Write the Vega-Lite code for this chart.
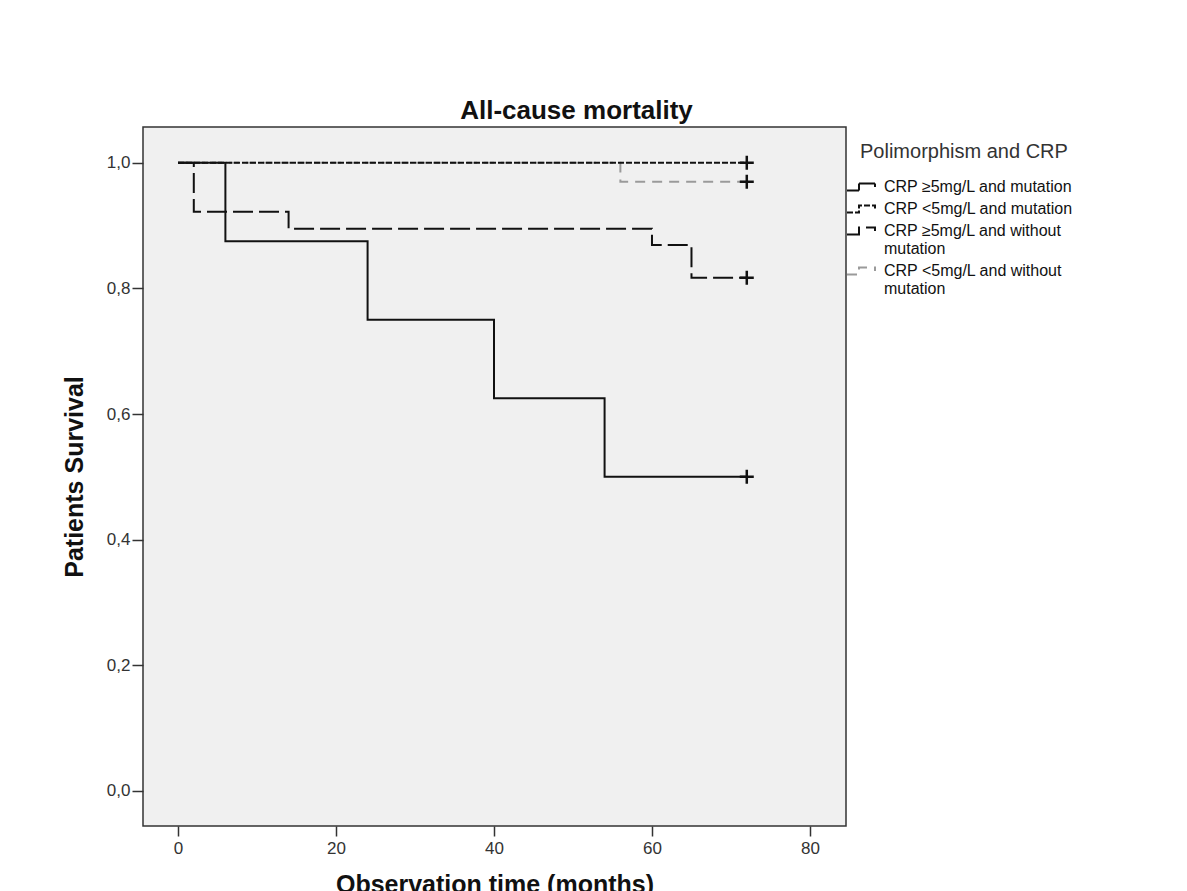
{
  "$schema": "https://vega.github.io/schema/vega-lite/v6.json",
  "autosize": {"type": "none"},
  "padding": {"left": 143, "top": 127, "right": 341, "bottom": 65},
  "width": 703,
  "height": 699,
  "background": "white",
  "title": {
    "text": "All-cause mortality",
    "font": "Liberation Sans",
    "fontSize": 26,
    "fontWeight": "bold",
    "color": "#111111",
    "anchor": "middle",
    "frame": "group",
    "dx": 82,
    "offset": 3
  },
  "datasets": {
    "curves": [
      {"group": "CRP <5mg/L and without mutation", "time": 0, "survival": 1.0},
      {"group": "CRP <5mg/L and without mutation", "time": 56, "survival": 0.97},
      {"group": "CRP <5mg/L and without mutation", "time": 72, "survival": 0.97},
      {"group": "CRP ≥5mg/L and without mutation", "time": 0, "survival": 1.0},
      {"group": "CRP ≥5mg/L and without mutation", "time": 2, "survival": 0.922},
      {"group": "CRP ≥5mg/L and without mutation", "time": 14, "survival": 0.895},
      {"group": "CRP ≥5mg/L and without mutation", "time": 60, "survival": 0.869},
      {"group": "CRP ≥5mg/L and without mutation", "time": 65, "survival": 0.817},
      {"group": "CRP ≥5mg/L and without mutation", "time": 72, "survival": 0.817},
      {"group": "CRP <5mg/L and mutation", "time": 0, "survival": 1.0},
      {"group": "CRP <5mg/L and mutation", "time": 72, "survival": 1.0},
      {"group": "CRP ≥5mg/L and mutation", "time": 0, "survival": 1.0},
      {"group": "CRP ≥5mg/L and mutation", "time": 6, "survival": 0.875},
      {"group": "CRP ≥5mg/L and mutation", "time": 24, "survival": 0.75},
      {"group": "CRP ≥5mg/L and mutation", "time": 40, "survival": 0.625},
      {"group": "CRP ≥5mg/L and mutation", "time": 54, "survival": 0.5},
      {"group": "CRP ≥5mg/L and mutation", "time": 72, "survival": 0.5}
    ],
    "censored": [
      {"group": "CRP <5mg/L and mutation", "time": 72, "survival": 1.0},
      {"group": "CRP <5mg/L and without mutation", "time": 72, "survival": 0.97},
      {"group": "CRP ≥5mg/L and without mutation", "time": 72, "survival": 0.817},
      {"group": "CRP ≥5mg/L and mutation", "time": 72, "survival": 0.5}
    ]
  },
  "layer": [
    {
      "data": {"name": "curves"},
      "mark": {"type": "line", "interpolate": "step-after", "strokeWidth": 2},
      "encoding": {
        "x": {
          "field": "time",
          "type": "quantitative",
          "scale": {"domain": [-4.43, 84.56], "nice": false, "zero": false},
          "title": "Observation time (months)",
          "axis": {
            "values": [0, 20, 40, 60, 80],
            "format": "d",
            "domain": false,
            "grid": false,
            "tickSize": 10,
            "tickWidth": 1.5,
            "tickColor": "#333333",
            "labelFont": "Liberation Sans",
            "labelFontSize": 17,
            "labelColor": "#333333",
            "labelPadding": 4,
            "titleFont": "Liberation Sans",
            "titleFontSize": 25,
            "titleFontWeight": "bold",
            "titleColor": "#111111",
            "titlePadding": 16
          }
        },
        "y": {
          "field": "survival",
          "type": "quantitative",
          "scale": {"domain": [-0.056, 1.057], "nice": false, "zero": false},
          "title": "Patients Survival",
          "axis": {
            "values": [0, 0.2, 0.4, 0.6, 0.8, 1.0],
            "labelExpr": "replace(format(datum.value, '.1f'), '.', ',')",
            "domain": false,
            "grid": false,
            "tickSize": 11,
            "tickWidth": 1.5,
            "tickColor": "#333333",
            "labelFont": "Liberation Sans",
            "labelFontSize": 17,
            "labelColor": "#333333",
            "labelPadding": 2,
            "titleFont": "Liberation Sans",
            "titleFontSize": 25,
            "titleFontWeight": "bold",
            "titleColor": "#111111",
            "titlePadding": 19
          }
        },
        "color": {
          "field": "group",
          "type": "nominal",
          "scale": {
            "domain": ["CRP ≥5mg/L and mutation", "CRP <5mg/L and mutation", "CRP ≥5mg/L and without mutation", "CRP <5mg/L and without mutation"],
            "range": ["#111111", "#111111", "#111111", "#9a9a9a"]
          },
          "legend": {
            "title": "Polimorphism and CRP",
            "orient": "none",
            "legendX": 717,
            "legendY": 15,
            "symbolType": "M-2.4,0.35H-1.2V-0.35H0.4V0",
            "symbolSize": 400,
            "symbolStrokeWidth": 2,
            "symbolFillColor": "transparent",
            "labelExpr": "datum.label == 'CRP ≥5mg/L and without mutation' ? ['CRP ≥5mg/L and without', 'mutation'] : (datum.label == 'CRP <5mg/L and without mutation' ? ['CRP <5mg/L and without', 'mutation'] : datum.label)",
            "labelFont": "Liberation Sans",
            "labelFontSize": 16,
            "labelColor": "#111111",
            "labelOffset": 2,
            "labelLimit": 400,
            "titleFont": "Liberation Sans",
            "titleFontSize": 20,
            "titleFontWeight": "normal",
            "titleColor": "#333333",
            "titleLimit": 400,
            "titlePadding": 14,
            "rowPadding": 3,
            "padding": 0
          }
        },
        "strokeDash": {
          "field": "group",
          "type": "nominal",
          "scale": {
            "domain": ["CRP ≥5mg/L and mutation", "CRP <5mg/L and mutation", "CRP ≥5mg/L and without mutation", "CRP <5mg/L and without mutation"],
            "range": [[1, 0], [6, 2], [20, 6], [10, 7]]
          },
          "legend": {
            "title": "Polimorphism and CRP",
            "orient": "none",
            "legendX": 717,
            "legendY": 15,
            "symbolType": "M-2.4,0.35H-1.2V-0.35H0.4V0",
            "symbolSize": 400,
            "symbolStrokeWidth": 2,
            "symbolFillColor": "transparent",
            "labelExpr": "datum.label == 'CRP ≥5mg/L and without mutation' ? ['CRP ≥5mg/L and without', 'mutation'] : (datum.label == 'CRP <5mg/L and without mutation' ? ['CRP <5mg/L and without', 'mutation'] : datum.label)",
            "labelFont": "Liberation Sans",
            "labelFontSize": 16,
            "labelColor": "#111111",
            "labelOffset": 2,
            "labelLimit": 400,
            "titleFont": "Liberation Sans",
            "titleFontSize": 20,
            "titleFontWeight": "normal",
            "titleColor": "#333333",
            "titleLimit": 400,
            "titlePadding": 14,
            "rowPadding": 3,
            "padding": 0
          }
        }
      }
    },
    {
      "data": {"name": "censored"},
      "mark": {
        "type": "point",
        "shape": "M-1,0H1M0,-1V1",
        "size": 196,
        "filled": false,
        "stroke": "#111111",
        "strokeWidth": 2.5,
        "opacity": 1
      },
      "encoding": {
        "x": {"field": "time", "type": "quantitative"},
        "y": {"field": "survival", "type": "quantitative"}
      }
    }
  ],
  "config": {
    "view": {"fill": "#f0f0f0", "stroke": "#333333", "strokeWidth": 1.5}
  }
}
